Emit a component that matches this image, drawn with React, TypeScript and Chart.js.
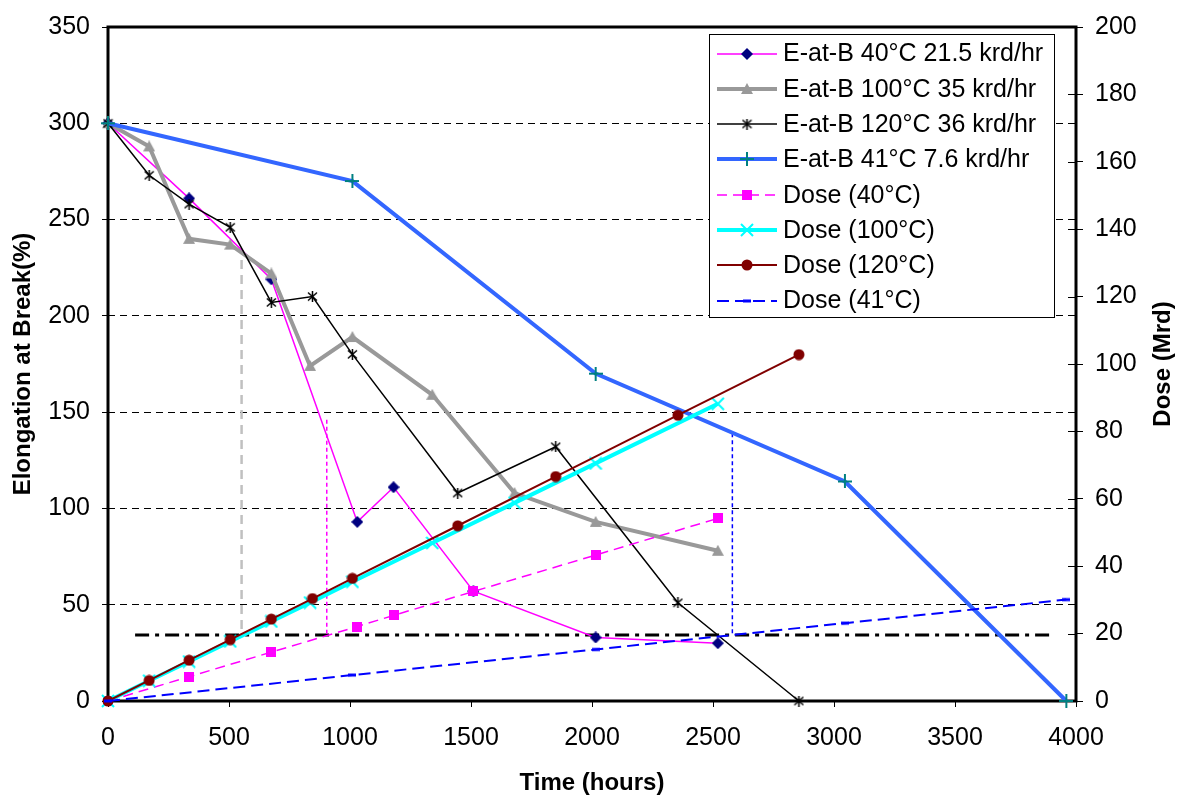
import React, { useEffect, useRef } from 'react';
import { Chart, registerables } from 'chart.js';

Chart.register(...registerables);

const FONT = "'Liberation Sans', Arial, Helvetica, sans-serif";

// ---- Data (hours / % / Mrd) ----
const time40 = [0, 335, 675, 1030, 1180, 1510, 2015, 2520];
const eab40 = [300, 261, 219, 93, 111, 57, 33, 30];
const dose40 = [0, 7.2, 14.5, 22.1, 25.4, 32.5, 43.3, 54.2];

const time100 = [0, 170, 335, 505, 675, 835, 1010, 1340, 1680, 2015, 2520];
const eab100 = [300, 288, 240, 237, 222, 174, 189, 159, 108, 93, 78];
const dose100 = [0, 6.0, 11.7, 17.7, 23.6, 29.2, 35.4, 46.9, 58.8, 70.5, 88.2];

const time120 = [0, 170, 335, 505, 675, 845, 1010, 1445, 1850, 2355, 2855];
const eab120 = [300, 273, 258, 246, 207, 210, 180, 108, 132, 51, 0];
const dose120 = [0, 6.1, 12.1, 18.2, 24.3, 30.4, 36.4, 52.0, 66.6, 84.8, 102.8];

const time41 = [0, 1010, 2015, 3045, 3960];
const eab41 = [300, 270, 170, 114, 0];
const dose41 = [0, 7.7, 15.3, 23.1, 30.1];

// threshold reference lines (left-axis units)
const thresholdLevel = 34.3;
const thresholdStart = 112;
const thresholdEnd = 3893;
const markerTimes = [552, 904, 2580];
const markerTops = [229, 146, 139];

const seriesLabels = [
  'E-at-B 40°C 21.5 krd/hr',
  'E-at-B 100°C 35 krd/hr',
  'E-at-B 120°C 36 krd/hr',
  'E-at-B 41°C 7.6 krd/hr',
  'Dose (40°C)',
  'Dose (100°C)',
  'Dose (120°C)',
  'Dose (41°C)',
];

const xTickStep = 500;
const yLeftMax = 350;
const yLeftStep = 50;
const yRightMax = 200;
const yRightStep = 20;

function pts(xs: number[], ys: number[]) {
  return xs.map((x, i) => ({ x, y: ys[i] }));
}

function makeMarker(kind: string, color: string, size: number): HTMLCanvasElement {
  const c = document.createElement('canvas');
  c.width = size;
  c.height = size;
  const ctx = c.getContext('2d') as CanvasRenderingContext2D;
  const m = size / 2;
  ctx.fillStyle = color;
  ctx.strokeStyle = color;
  ctx.lineCap = 'butt';
  switch (kind) {
    case 'diamond':
      ctx.beginPath();
      ctx.moveTo(m, 0);
      ctx.lineTo(size, m);
      ctx.lineTo(m, size);
      ctx.lineTo(0, m);
      ctx.closePath();
      ctx.fill();
      break;
    case 'triangle':
      ctx.beginPath();
      ctx.moveTo(m, 0);
      ctx.lineTo(size, size - 1);
      ctx.lineTo(0, size - 1);
      ctx.closePath();
      ctx.fill();
      break;
    case 'star':
      ctx.lineWidth = 1.5;
      ctx.beginPath();
      ctx.moveTo(1, 1.5);
      ctx.lineTo(size - 1, size - 1.5);
      ctx.moveTo(size - 1, 1.5);
      ctx.lineTo(1, size - 1.5);
      ctx.moveTo(m, 0);
      ctx.lineTo(m, size);
      ctx.stroke();
      break;
    case 'plus':
      ctx.lineWidth = 2;
      ctx.beginPath();
      ctx.moveTo(0, m);
      ctx.lineTo(size, m);
      ctx.moveTo(m, 0);
      ctx.lineTo(m, size);
      ctx.stroke();
      break;
    case 'square':
      ctx.fillRect(0, 0, size, size);
      break;
    case 'x':
      ctx.lineWidth = 2;
      ctx.beginPath();
      ctx.moveTo(1, 1);
      ctx.lineTo(size - 1, size - 1);
      ctx.moveTo(size - 1, 1);
      ctx.lineTo(1, size - 1);
      ctx.stroke();
      break;
    case 'circle':
      ctx.beginPath();
      ctx.arc(m, m, m - 0.5, 0, Math.PI * 2);
      ctx.fill();
      break;
    case 'dash':
      ctx.fillRect(0, m - 1.5, size, 3);
      break;
  }
  return c;
}

const frameAndTicksPlugin = {
  id: 'frameAndTicks',
  beforeDatasetsDraw(chart: any) {
    const { ctx, chartArea } = chart;
    const { left, right, top, bottom } = chartArea;
    ctx.save();
    ctx.strokeStyle = '#000';
    ctx.lineWidth = 3;
    ctx.strokeRect(left, top, right - left, bottom - top);
    // inward tick marks on the right axis
    const y2 = chart.scales.y2;
    ctx.lineWidth = 1;
    ctx.beginPath();
    y2.ticks.forEach((t: any) => {
      const py = Math.round(y2.getPixelForValue(t.value)) + 0.5;
      ctx.moveTo(right - 8, py);
      ctx.lineTo(right, py);
    });
    ctx.stroke();
    ctx.restore();
  },
};

const legendPlugin = {
  id: 'boxLegend',
  afterDatasetsDraw(chart: any) {
    const { ctx, chartArea } = chart;
    const boxW = 345;
    const boxH = 283;
    const bx = chartArea.right - 22 - boxW;
    const by = chartArea.top + 7;
    ctx.save();
    ctx.fillStyle = '#fff';
    ctx.fillRect(bx, by, boxW, boxH);
    ctx.strokeStyle = '#000';
    ctx.lineWidth = 1;
    ctx.strokeRect(bx + 0.5, by + 0.5, boxW, boxH);
    const rowH = 35.3;
    ctx.font = `25px ${FONT}`;
    ctx.textBaseline = 'middle';
    ctx.textAlign = 'left';
    for (let i = 0; i < seriesLabels.length; i++) {
      const ds = chart.data.datasets[i];
      const cy = by + 19.5 + rowH * i;
      const x1 = bx + 8;
      const x2 = bx + 68;
      ctx.save();
      ctx.strokeStyle = ds.borderColor;
      ctx.lineWidth = ds.borderWidth;
      ctx.setLineDash(ds.borderDash || []);
      ctx.beginPath();
      ctx.moveTo(x1, Math.round(cy));
      ctx.lineTo(x2, Math.round(cy));
      ctx.stroke();
      ctx.restore();
      const img = ds.pointStyle as HTMLCanvasElement;
      ctx.drawImage(img, (x1 + x2) / 2 - img.width / 2, Math.round(cy) - img.height / 2);
      ctx.fillStyle = '#000';
      ctx.fillText(seriesLabels[i], bx + 74, cy + 1);
    }
    ctx.restore();
  },
};

const rightTitlePlugin = {
  id: 'rightTitle',
  afterDraw(chart: any) {
    const { ctx, chartArea } = chart;
    ctx.save();
    ctx.translate(1163, (chartArea.top + chartArea.bottom) / 2);
    ctx.rotate(-Math.PI / 2);
    ctx.font = `bold 24px ${FONT}`;
    ctx.fillStyle = '#000';
    ctx.textAlign = 'center';
    ctx.textBaseline = 'middle';
    ctx.fillText('Dose (Mrd)', 0, 0);
    ctx.restore();
  },
};

const plainNumber = (v: any) => String(v);

export default function App() {
  const ref = useRef<HTMLCanvasElement | null>(null);

  useEffect(() => {
    if (!ref.current) return;
    const mk = {
      diamond: makeMarker('diamond', '#000080', 12),
      triangle: makeMarker('triangle', '#999999', 12),
      star: makeMarker('star', '#000000', 11),
      plus: makeMarker('plus', '#008080', 14),
      square: makeMarker('square', '#FF00FF', 10),
      x: makeMarker('x', '#00FFFF', 14),
      circle: makeMarker('circle', '#800000', 12),
      dash: makeMarker('dash', '#0000FF', 8),
    };

    const base = {
      pointRadius: 5,
      pointHoverRadius: 5,
      tension: 0,
      clip: false as any,
      fill: false,
    };

    const series: any[] = [
      { ...base, label: seriesLabels[0], data: pts(time40, eab40), yAxisID: 'y', borderColor: '#FF00FF', borderWidth: 1.5, pointStyle: mk.diamond },
      { ...base, label: seriesLabels[1], data: pts(time100, eab100), yAxisID: 'y', borderColor: '#999999', borderWidth: 4, pointStyle: mk.triangle },
      { ...base, label: seriesLabels[2], data: pts(time120, eab120), yAxisID: 'y', borderColor: '#000000', borderWidth: 1.5, pointStyle: mk.star },
      { ...base, label: seriesLabels[3], data: pts(time41, eab41), yAxisID: 'y', borderColor: '#3366FF', borderWidth: 4, pointStyle: mk.plus },
      { ...base, label: seriesLabels[4], data: pts(time40, dose40), yAxisID: 'y2', borderColor: '#FF00FF', borderWidth: 1.5, borderDash: [10, 6], pointStyle: mk.square },
      { ...base, label: seriesLabels[5], data: pts(time100, dose100), yAxisID: 'y2', borderColor: '#00FFFF', borderWidth: 4, pointStyle: mk.x },
      { ...base, label: seriesLabels[6], data: pts(time120, dose120), yAxisID: 'y2', borderColor: '#800000', borderWidth: 2, pointStyle: mk.circle },
      { ...base, label: seriesLabels[7], data: pts(time41, dose41), yAxisID: 'y2', borderColor: '#0000FF', borderWidth: 2, borderDash: [12, 6], pointStyle: mk.dash },
    ];
    const n = series.length;
    series.forEach((d, i) => (d.order = n - i + 10));

    const refStyles = [
      { color: '#C0C0C0', width: 2.5, dash: [9, 6] },
      { color: '#FF00FF', width: 1.5, dash: [4, 3] },
      { color: '#0000FF', width: 1.5, dash: [4, 3] },
    ];
    const refs: any[] = markerTimes.map((t, i) => ({
      label: 'ref' + i,
      data: [
        { x: t, y: markerTops[i] },
        { x: t, y: thresholdLevel },
      ],
      yAxisID: 'y',
      borderColor: refStyles[i].color,
      borderWidth: refStyles[i].width,
      borderDash: refStyles[i].dash,
      pointRadius: 0,
      clip: false,
      order: 20,
    }));
    refs.push({
      label: 'threshold',
      data: [
        { x: thresholdStart, y: thresholdLevel },
        { x: thresholdEnd, y: thresholdLevel },
      ],
      yAxisID: 'y',
      borderColor: '#000000',
      borderWidth: 3,
      borderDash: [14, 6, 4, 6],
      pointRadius: 0,
      clip: false,
      order: 30,
    });

    const tickFont = { family: FONT, size: 25 };

    const chart = new Chart(ref.current, {
      type: 'line',
      data: { datasets: [...series, ...refs] },
      options: {
        animation: false,
        responsive: true,
        maintainAspectRatio: false,
        events: [],
        layout: { padding: { top: 22, left: 0, right: 0, bottom: 0 } },
        plugins: {
          legend: { display: false },
          tooltip: { enabled: false },
          title: { display: false },
        },
        scales: {
          x: {
            type: 'linear',
            position: 'bottom',
            min: 0,
            max: 4000,
            ticks: { stepSize: xTickStep, color: '#000', font: tickFont, padding: 16, maxRotation: 0, autoSkip: false, callback: plainNumber },
            grid: { drawOnChartArea: false, drawTicks: true, tickLength: 6, tickColor: '#000', tickWidth: 1 },
            border: { display: false },
            title: {
              display: true,
              text: 'Time (hours)',
              color: '#000',
              font: { family: FONT, size: 24, weight: 'bold', lineHeight: 1 },
              padding: { top: 0, bottom: 1 },
            },
            afterFit: (s: any) => {
              s.height = 95;
            },
          },
          y: {
            type: 'linear',
            position: 'left',
            min: 0,
            max: yLeftMax,
            ticks: { stepSize: yLeftStep, color: '#000', font: tickFont, padding: 12, callback: plainNumber },
            grid: { drawOnChartArea: true, color: '#000', lineWidth: 1, drawTicks: true, tickLength: 6, tickColor: '#000', tickWidth: 1 },
            border: { display: false, dash: [7, 5] },
            title: {
              display: true,
              text: 'Elongation at Break(%)',
              color: '#000',
              font: { family: FONT, size: 24, weight: 'bold', lineHeight: 1 },
              padding: { top: 11, bottom: 0 },
            },
            afterFit: (s: any) => {
              s.width = 108;
            },
          },
          y2: {
            type: 'linear',
            position: 'right',
            min: 0,
            max: yRightMax,
            ticks: { stepSize: yRightStep, color: '#000', font: tickFont, padding: 12, callback: plainNumber },
            grid: { drawOnChartArea: false, drawTicks: true, tickLength: 7, tickColor: '#000', tickWidth: 1 },
            border: { display: false },
            title: { display: false },
            afterFit: (s: any) => {
              s.width = 104;
            },
          },
        },
      } as any,
      plugins: [frameAndTicksPlugin, legendPlugin, rightTitlePlugin],
    });

    return () => chart.destroy();
  }, []);

  return (
    <div style={{ position: 'absolute', left: 0, top: 0, width: 1180, height: 796, background: '#fff' }}>
      <canvas ref={ref} />
    </div>
  );
}
